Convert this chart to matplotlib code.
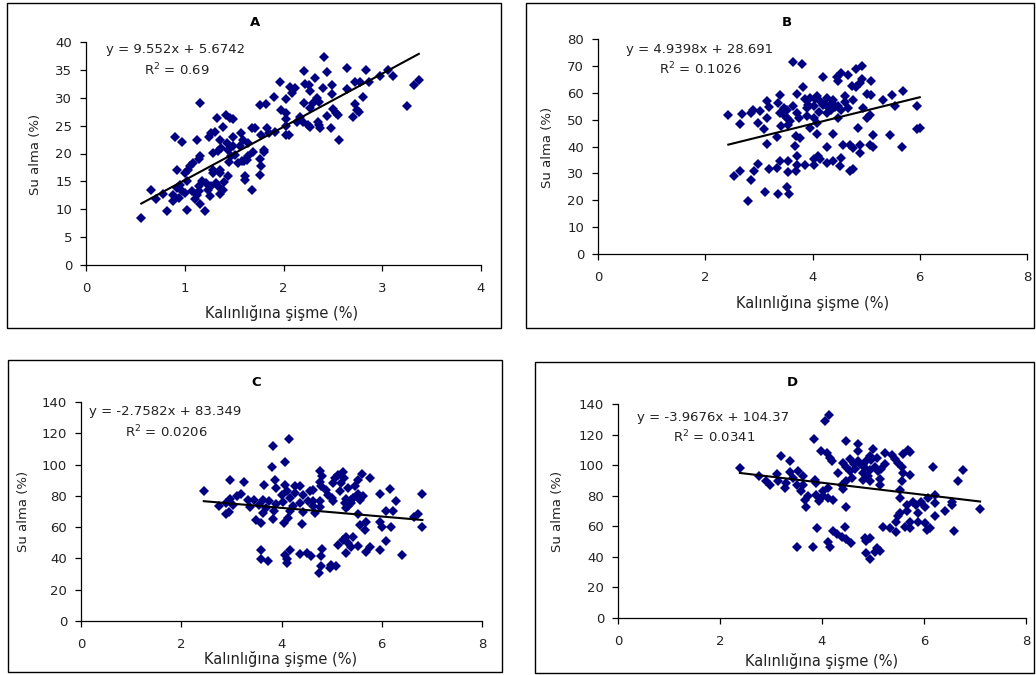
import matplotlib.pyplot as plt
from matplotlib.patches import Rectangle

plt.rcParams['font.family'] = ['DejaVu Sans']

W, H = 1036, 675

# ---- data ----
a_x = [2.41, 2.64, 2.21, 2.44, 2.84, 3.06, 2.98, 3.11, 2.32, 1.96, 2.72, 2.77, 2.87, 3.37, 3.32,
       2.22, 2.26, 2.49, 2.07, 2.12, 2.40, 2.27, 2.64, 2.09, 2.49, 1.90, 2.03, 2.34, 2.81, 1.15,
       1.76, 1.82, 2.21, 2.30, 2.36, 2.72, 3.25, 2.27, 2.50, 2.74, 1.97, 2.53, 2.76, 2.03, 2.55,
       1.42, 1.46, 1.33, 1.49, 2.17, 2.44, 2.70, 2.03, 2.14, 2.20, 2.25, 2.35, 2.36, 2.03, 2.27,
       2.37, 2.48, 1.39, 1.68, 1.71, 1.83, 1.91, 1.85, 2.03, 2.06, 1.77, 1.57, 1.27, 1.25, 1.31,
       1.49, 1.36, 1.12, 0.90, 0.97, 2.56, 1.59, 1.64, 1.43, 1.49, 1.37, 1.34, 1.29, 1.44, 1.56,
       1.80, 1.80, 1.69, 1.64, 1.51, 1.47, 1.76, 1.63, 1.58, 1.45, 1.15, 1.14, 1.08, 1.05, 1.03,
       0.92, 1.29, 1.36, 1.54, 1.60, 1.77, 1.29, 1.36, 1.00, 1.76, 1.44, 1.61, 1.61, 1.02, 1.17,
       1.22, 1.32, 1.40, 0.95, 1.14, 1.27, 1.34, 0.92, 0.66, 1.68, 0.97, 1.07, 1.14, 1.24, 1.39,
       1.00, 0.78, 0.88, 1.12, 1.36, 1.26, 0.94, 0.71, 1.10, 0.88, 1.15, 0.82, 1.02, 1.21, 0.56]
a_y = [37.3, 35.4, 34.8, 34.6, 35.0, 35.0, 33.9, 33.9, 33.5, 32.9, 32.9, 32.9, 32.9, 33.1, 32.2,
       32.5, 32.3, 32.2, 31.9, 31.7, 31.7, 31.3, 31.5, 30.9, 30.6, 30.2, 29.7, 29.9, 30.1, 29.0,
       28.7, 28.9, 29.0, 29.0, 29.3, 28.8, 28.5, 28.1, 27.9, 27.8, 27.8, 27.2, 27.5, 27.2, 26.9,
       26.9, 26.3, 26.3, 26.2, 26.6, 26.7, 26.6, 26.2, 25.7, 25.6, 25.1, 25.6, 25.2, 25.0, 24.7,
       24.5, 24.5, 24.7, 24.5, 24.5, 24.5, 23.9, 23.6, 23.3, 23.3, 23.3, 23.6, 23.6, 23.0, 23.9,
       23.0, 22.4, 22.4, 22.9, 22.0, 22.4, 22.4, 21.9, 21.9, 21.3, 21.0, 20.4, 20.1, 20.7, 21.3,
       20.7, 20.2, 20.2, 19.5, 19.8, 19.5, 19.0, 18.9, 18.7, 18.4, 19.5, 19.0, 18.3, 17.7, 17.1,
       17.1, 17.1, 17.1, 18.3, 18.6, 17.7, 16.5, 16.5, 16.5, 16.2, 15.9, 15.9, 15.3, 15.0, 15.0,
       14.7, 14.7, 14.8, 14.4, 14.1, 14.1, 14.1, 13.8, 13.5, 13.5, 13.2, 13.2, 13.2, 13.5, 13.5,
       12.9, 12.7, 12.6, 12.6, 12.8, 12.3, 12.0, 11.8, 11.8, 11.4, 11.0, 9.6, 9.9, 9.6, 8.4]

b_x = [3.63, 3.81, 4.92, 4.82, 4.54, 4.67, 4.45, 4.20, 4.92, 4.48, 5.09, 4.89, 4.73, 3.83, 4.81,
       5.68, 5.49, 3.40, 3.71, 4.61, 5.01, 5.10, 4.08, 3.96, 3.86, 5.32, 4.39, 4.27, 4.76, 3.16,
       3.36, 4.14, 4.20, 4.36, 4.48, 5.54, 5.94, 3.64, 3.18, 3.46, 3.52, 3.89, 4.02, 4.30, 4.42,
       4.54, 4.67, 4.95, 2.89, 3.02, 2.68, 2.85, 2.43, 3.40, 3.71, 4.27, 5.07, 5.01, 4.48, 4.02,
       3.52, 3.15, 3.89, 3.75, 2.99, 4.08, 2.64, 3.42, 3.55, 3.96, 3.10, 4.85, 5.94, 6.00, 4.08,
       5.12, 5.44, 4.38, 3.69, 3.77, 3.33, 3.15, 3.68, 4.27, 4.56, 4.70, 4.76, 4.89, 5.07, 5.13,
       5.66, 4.89, 3.71, 4.11, 4.02, 4.14, 4.54, 4.39, 4.27, 3.40, 3.54, 2.99, 4.02, 3.86, 3.71,
       4.51, 3.18, 3.33, 4.75, 4.70, 2.65, 3.55, 3.69, 2.90, 2.53, 2.85, 3.12, 3.36, 3.52, 3.57,
       2.79, 4.05, 4.22, 4.33, 4.12, 3.92, 4.60, 4.35, 3.48, 3.58]
b_y = [71.3, 70.7, 70.1, 68.8, 67.3, 66.7, 65.9, 65.9, 65.1, 64.2, 64.2, 63.6, 62.6, 62.1, 62.1,
       60.5, 59.3, 59.3, 59.7, 58.7, 59.7, 59.3, 58.9, 58.0, 57.7, 57.2, 57.2, 58.0, 57.4, 56.8,
       56.2, 56.8, 55.6, 56.2, 55.2, 55.2, 55.2, 55.2, 54.7, 54.3, 53.7, 54.3, 54.9, 54.3, 54.7,
       53.7, 54.3, 54.3, 53.7, 53.1, 52.1, 52.5, 51.8, 52.5, 52.5, 52.5, 51.8, 50.6, 50.6, 50.6,
       50.6, 50.6, 51.2, 50.6, 48.7, 48.7, 48.4, 47.8, 48.1, 46.9, 46.5, 46.9, 46.5, 46.9, 44.7,
       44.4, 44.2, 44.7, 44.0, 43.2, 43.5, 41.1, 40.3, 39.8, 40.7, 40.7, 39.4, 40.7, 40.7, 39.7,
       39.8, 37.6, 36.3, 36.6, 35.3, 35.3, 35.7, 34.5, 33.9, 34.5, 34.5, 33.5, 33.2, 33.0, 33.2,
       32.6, 31.6, 32.0, 31.6, 30.8, 31.0, 30.4, 30.8, 30.8, 28.9, 27.7, 22.9, 22.3, 24.9, 22.3,
       19.6, 57.5, 56.0, 55.0, 53.0, 55.5, 56.5, 53.5, 51.5, 49.5]

c_x = [4.15, 3.84, 4.06, 3.82, 4.77, 5.22, 5.12, 5.61, 5.76, 5.25, 4.81, 5.06, 2.98, 3.88, 5.53,
       3.25, 4.76, 5.03, 5.19, 4.06, 3.66, 4.26, 4.79, 5.46, 4.36, 3.90, 5.33, 6.16, 4.63, 4.89,
       5.16, 4.10, 4.56, 2.45, 6.81, 5.97, 4.26, 3.20, 3.11, 4.43, 4.00, 5.53, 5.62, 5.43, 5.01,
       4.93, 4.16, 5.39, 5.29, 5.56, 2.98, 3.33, 3.46, 3.63, 3.75, 4.76, 6.28, 5.03, 4.53, 4.63,
       4.03, 5.26, 2.90, 3.03, 3.56, 4.36, 3.90, 5.39, 5.33, 2.75, 3.38, 3.70, 4.23, 4.63, 4.76,
       5.29, 6.09, 6.22, 2.95, 3.86, 4.16, 4.43, 4.66, 3.63, 2.90, 4.13, 5.53, 6.72, 6.65, 3.83,
       3.50, 5.69, 5.96, 3.60, 4.04, 4.41, 5.56, 6.00, 6.19, 6.81, 5.66, 5.29, 5.43, 5.22, 6.09,
       5.33, 5.12, 5.53, 5.76, 5.39, 3.60, 4.16, 4.81, 5.96, 5.69, 5.29, 4.50, 4.36, 4.06, 6.41,
       4.59, 4.79, 4.10, 3.60, 3.73, 4.10, 4.79, 4.99, 5.09, 4.96, 4.75]
c_y = [116.2, 112.1, 101.5, 98.5, 96.2, 95.1, 93.4, 93.8, 91.7, 91.7, 93.0, 91.3, 90.2, 90.2, 90.2,
       88.7, 89.1, 88.1, 88.1, 87.0, 87.0, 86.6, 86.4, 86.6, 86.0, 85.3, 84.9, 84.3, 83.8, 83.8,
       83.2, 82.8, 82.8, 83.4, 81.1, 81.1, 81.7, 81.1, 80.2, 80.6, 80.6, 81.1, 80.2, 78.9, 78.9,
       80.6, 78.9, 77.4, 78.1, 77.4, 78.1, 77.4, 77.4, 77.4, 76.4, 76.4, 76.4, 76.8, 76.4, 76.4,
       76.0, 75.5, 75.3, 74.3, 74.3, 75.3, 74.7, 75.3, 73.2, 73.8, 72.6, 72.1, 73.2, 73.2, 72.6,
       72.1, 70.4, 70.0, 69.6, 70.0, 70.4, 69.6, 68.9, 68.9, 68.3, 65.7, 68.3, 68.3, 66.8, 65.1,
       64.7, 63.6, 63.6, 62.6, 62.6, 61.9, 61.5, 60.4, 60.4, 60.4, 58.3, 54.0, 53.4, 51.9, 50.9,
       49.8, 48.7, 47.7, 47.0, 47.0, 45.5, 45.5, 46.2, 45.5, 44.0, 43.4, 43.4, 42.8, 42.3, 42.3,
       41.3, 41.3, 39.8, 39.8, 38.5, 37.0, 34.9, 36.0, 34.9, 33.8, 30.6]

d_x = [4.14, 4.05, 3.84, 4.48, 4.71, 5.69, 5.73, 4.71, 5.00, 3.99, 4.09, 5.24, 5.59, 5.37, 4.94,
       3.19, 4.15, 5.07, 5.43, 4.55, 4.19, 3.38, 4.71, 4.87, 4.41, 5.24, 5.49, 4.80, 4.48, 5.04,
       6.17, 2.39, 4.64, 4.94, 5.56, 6.76, 4.55, 5.10, 3.37, 3.53, 4.31, 4.80, 5.59, 3.12, 5.73,
       4.90, 3.62, 2.77, 3.43, 4.58, 5.13, 4.80, 3.86, 3.14, 2.90, 5.56, 6.67, 4.47, 4.94, 3.30,
       3.89, 3.50, 2.98, 5.13, 4.40, 3.63, 4.12, 3.27, 4.42, 5.53, 3.58, 4.02, 6.21, 3.88, 3.73,
       5.53, 6.08, 4.02, 4.12, 3.66, 3.94, 4.22, 5.79, 6.54, 5.95, 6.21, 5.85, 6.54, 5.66, 6.02,
       3.68, 4.48, 7.10, 6.41, 5.66, 5.53, 5.89, 5.49, 6.21, 5.46, 5.72, 5.89, 6.02, 5.62, 5.20,
       3.90, 4.45, 5.33, 5.72, 6.12, 6.05, 6.59, 5.46, 4.22, 4.29, 4.39, 4.48, 4.84, 4.94, 4.87,
       4.11, 4.56, 4.15, 3.51, 3.82, 5.07, 5.13, 5.04, 4.87, 4.94, 4.62, 4.85, 4.97, 5.15, 4.75]
d_y = [132.6, 129.1, 117.1, 116.0, 113.8, 109.6, 108.5, 109.4, 110.7, 109.0, 107.9, 107.9, 107.2, 106.4, 105.7,
       105.7, 104.6, 104.6, 104.2, 104.2, 102.9, 102.9, 102.4, 102.9, 101.3, 100.7, 101.3, 100.2, 99.1, 99.1,
       99.1, 98.1, 97.6, 97.0, 98.5, 96.5, 95.9, 95.9, 95.4, 95.9, 94.8, 94.8, 94.8, 94.1, 93.3,
       93.0, 93.0, 93.0, 91.5, 91.5, 91.1, 90.4, 90.4, 89.8, 89.8, 89.8, 89.8, 89.8, 89.3, 88.2,
       88.2, 87.1, 87.1, 87.1, 86.7, 86.7, 85.0, 85.0, 84.5, 83.9, 83.2, 82.8, 80.6, 80.6, 79.5,
       78.8, 78.8, 79.5, 78.4, 77.3, 76.7, 77.3, 76.2, 76.2, 75.8, 75.1, 73.6, 73.6, 74.0, 72.9,
       72.9, 72.3, 71.2, 70.1, 69.7, 68.6, 68.6, 67.0, 66.8, 63.1, 63.1, 63.1, 62.0, 59.8, 59.8,
       59.2, 59.8, 58.7, 58.7, 58.7, 57.7, 57.0, 56.1, 57.0, 54.8, 53.3, 51.8, 52.6, 52.2, 50.4,
       50.0, 48.9, 46.7, 46.7, 46.7, 46.1, 43.9, 43.5, 42.4, 38.7, 101.0, 98.0, 103.5, 97.5, 100.5]

titles = ['A', 'B', 'C', 'D']
slopes = [9.552, 4.9398, -2.7582, -3.9676]
intercepts = [5.6742, 28.691, 83.349, 104.37]
eq_texts = ['y = 9.552x + 5.6742', 'y = 4.9398x + 28.691',
            'y = -2.7582x + 83.349', 'y = -3.9676x + 104.37']
r2_texts = ['0.69', '0.1026', '0.0206', '0.0341']
x_limits = [(0, 4), (0, 8), (0, 8), (0, 8)]
y_limits = [(0, 40), (0, 80), (0, 140), (0, 140)]
x_steps = [1, 2, 2, 2]
y_steps = [5, 10, 20, 20]
xs = [a_x, b_x, c_x, d_x]
ys = [a_y, b_y, c_y, d_y]

# ---- layout in pixels: frame box, axes box, text anchors ----
frames = [(7, 3, 501, 328), (526, 3, 1034, 328), (8, 360, 502, 672), (535, 362, 1034, 673)]
axes_px = [(86, 42, 481, 265), (598, 39, 1027, 254), (81, 402, 482, 621), (618, 404, 1026, 618)]
title_pos = [(255, 23), (787, 22), (256, 382), (792, 382)]
eq_pos = [(106, 49), (626, 49), (89, 412), (637, 417)]
r2_pos = [(144, 70), (659, 69), (125, 432), (673, 437)]
xlabel_pos = [(282, 313), (813, 303), (281, 659), (822, 661)]
ylabel_pos = [(35, 154), (547, 147), (24, 511), (558, 511)]


def fx(px):
    return px / W


def fy(py):
    return 1 - py / H


fig = plt.figure(figsize=(W / 100, H / 100), dpi=100)

for i in range(4):
    l, t, r, b = frames[i]
    fig.patches.append(Rectangle((fx(l), fy(b)), fx(r) - fx(l), fy(t) - fy(b),
                                 transform=fig.transFigure, fill=False,
                                 edgecolor='black', linewidth=1.0))

    l, t, r, b = axes_px[i]
    ax = fig.add_axes([fx(l), fy(b), fx(r) - fx(l), fy(t) - fy(b)])
    ax.plot(xs[i], ys[i], linestyle='none', marker='D', markersize=4.7,
            color='#000080', markeredgewidth=0, clip_on=False)

    x0, x1 = min(xs[i]), max(xs[i])
    ax.plot([x0, x1], [slopes[i] * x0 + intercepts[i], slopes[i] * x1 + intercepts[i]],
            color='black', linewidth=1.5)

    ax.set_xlim(*x_limits[i])
    ax.set_ylim(*y_limits[i])
    ax.set_xticks(range(x_limits[i][0], x_limits[i][1] + 1, x_steps[i]))
    ax.set_yticks(range(y_limits[i][0], y_limits[i][1] + 1, y_steps[i]))
    for s in ['top', 'right']:
        ax.spines[s].set_visible(False)
    for s in ['left', 'bottom']:
        ax.spines[s].set_linewidth(0.9)
    ax.tick_params(axis='x', direction='out', length=4, width=0.9, pad=8, labelsize=9.5,
                   labelcolor='#222222')
    ax.tick_params(axis='y', direction='out', length=4, width=0.9, pad=6, labelsize=9.5,
                   labelcolor='#222222')
    ax.patch.set_alpha(0)

    fig.text(fx(title_pos[i][0]), fy(title_pos[i][1]), titles[i], ha='center', va='center',
             fontsize=9.5, fontweight='bold')
    fig.text(fx(eq_pos[i][0]), fy(eq_pos[i][1]), eq_texts[i], ha='left', va='center',
             fontsize=9.5, color='#222222')
    fig.text(fx(r2_pos[i][0]), fy(r2_pos[i][1]), '$\\mathregular{R^2}$ = ' + r2_texts[i],
             ha='left', va='center', fontsize=9.5, color='#222222')
    fig.text(fx(xlabel_pos[i][0]), fy(xlabel_pos[i][1]), 'Kalınlığına şişme (%)',
             ha='center', va='center', fontsize=10.5, color='#222222')
    fig.text(fx(ylabel_pos[i][0]), fy(ylabel_pos[i][1]), 'Su alma (%)',
             ha='center', va='center', rotation=90, fontsize=9.5, color='#222222')

fig.savefig('out.png', dpi=100)
